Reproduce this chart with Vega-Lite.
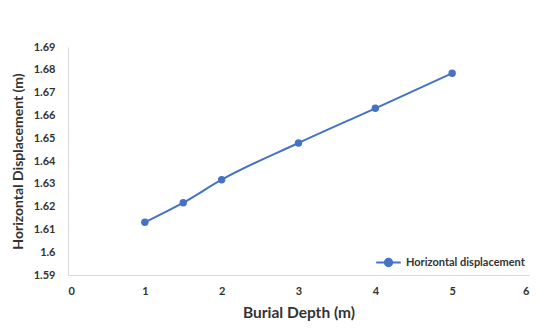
{
  "$schema": "https://vega.github.io/schema/vega-lite/v6.json",
  "width": 461,
  "height": 228,
  "autosize": {"type": "none"},
  "padding": {"left": 68, "top": 47, "right": 21, "bottom": 60},
  "background": "white",
  "config": {
    "view": {"stroke": null},
    "font": "Lato"
  },
  "data": {
    "values": [
      {"depth": 1, "disp": 1.6131, "series": "Horizontal displacement"},
      {"depth": 1.5, "disp": 1.6217, "series": "Horizontal displacement"},
      {"depth": 2, "disp": 1.6318, "series": "Horizontal displacement"},
      {"depth": 3, "disp": 1.6479, "series": "Horizontal displacement"},
      {"depth": 4, "disp": 1.6631, "series": "Horizontal displacement"},
      {"depth": 5, "disp": 1.6785, "series": "Horizontal displacement"}
    ]
  },
  "mark": {
    "type": "line",
    "interpolate": "monotone",
    "strokeWidth": 2,
    "point": {"filled": true, "size": 55}
  },
  "encoding": {
    "x": {
      "field": "depth",
      "type": "quantitative",
      "scale": {"domain": [0, 6], "nice": false},
      "axis": {
        "values": [0, 1, 2, 3, 4, 5, 6],
        "title": "Burial Depth (m)",
        "grid": false,
        "ticks": false,
        "domainColor": "#d9d9d9",
        "labelFontWeight": "bold",
        "labelFontSize": 11,
        "labelColor": "#333333",
        "labelPadding": 10,
        "titleFontSize": 15.5,
        "titleFontWeight": "bold",
        "titleColor": "#333333",
        "titlePadding": 9
      }
    },
    "y": {
      "field": "disp",
      "type": "quantitative",
      "scale": {"domain": [1.59, 1.69], "nice": false, "zero": false},
      "axis": {
        "values": [1.59, 1.6, 1.61, 1.62, 1.63, 1.64, 1.65, 1.66, 1.67, 1.68, 1.69],
        "format": ".2~f",
        "title": "Horizontal Displacement (m)",
        "grid": false,
        "ticks": false,
        "domainColor": "#d9d9d9",
        "labelFontWeight": "bold",
        "labelFontSize": 11,
        "labelColor": "#333333",
        "labelPadding": 13,
        "titleFontSize": 14,
        "titleFontWeight": "bold",
        "titleColor": "#333333",
        "titlePadding": 8
      }
    },
    "color": {
      "field": "series",
      "type": "nominal",
      "scale": {"range": ["#4472C4"]},
      "legend": {
        "title": null,
        "orient": "bottom-right",
        "offset": 4,
        "symbolType": "M -1 0 L 1 0 M 0.3 0 A 0.3 0.3 0 1 1 -0.3 0 A 0.3 0.3 0 1 1 0.3 0",
        "symbolSize": 600,
        "symbolStrokeWidth": 2,
        "symbolFillColor": "#4472C4",
        "labelFontWeight": "bold",
        "labelFontSize": 11,
        "labelColor": "#333333"
      }
    }
  }
}
